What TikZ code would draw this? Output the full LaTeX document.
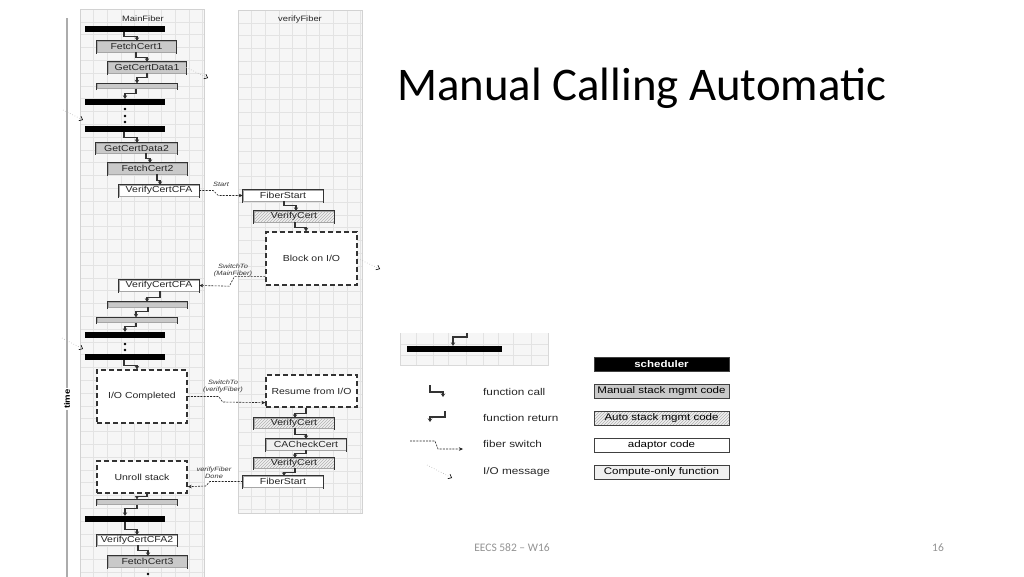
\documentclass[tikz,border=0pt]{standalone}
\usepackage{fontspec}
\setmainfont{Liberation Sans}
\newfontfamily\dgfont[FakeStretch=1.2]{Liberation Sans}
\newfontfamily\calfont{Carlito}
\usetikzlibrary{patterns,arrows.meta,calc}
\begin{document}
\begin{tikzpicture}[x=1pt,y=-1pt,
  wh/.style 2 args={minimum width=#1,minimum height=#2},
  cell/.style={inner sep=0pt,font=\dgfont\fontsize{8.75}{9}\selectfont,text=black!85},
  manual/.style={cell,fill=gray!42,draw=gray!70,line width=0.4pt},
  adapt/.style={cell,fill=white,draw=gray!70,line width=0.4pt},
  autos/.style={cell,preaction={fill=gray!12},pattern=north east lines,pattern color=gray!60,draw=gray!70,line width=0.4pt},
  compute/.style={cell,fill=gray!12,draw=gray!70,line width=0.4pt},
  dashbox/.style={cell,fill=white,draw=gray!40!black,dash pattern=on 5pt off 3pt,line width=1.3pt},
  schedbar/.style={inner sep=0pt,fill=black},
  brk/.style={line width=1.2pt,black!80},
  call/.style={line width=1.1pt,black!80,-{Stealth[length=3.5pt,width=4.5pt]}},
  switch/.style={line width=0.6pt,gray!30!black,dash pattern=on 2pt off 1.2pt,-{Stealth[length=4pt,width=3.5pt]}},
  iomsg/.style={line width=0.6pt,gray!60,dotted,-{Straight Barb[length=3pt,width=5pt,black]}},
  gridl/.style={gray!22,line width=0.4pt},
  lane/.style={font=\dgfont\fontsize{7.8}{9}\selectfont,text=black!85},
  swlbl/.style={font=\dgfont\itshape\fontsize{6.2}{7}\selectfont,text=gray!40!black,align=center,inner sep=0pt},
  leglbl/.style={anchor=west,inner sep=0pt,font=\dgfont\fontsize{9.8}{11}\selectfont,text=black!85},
  legbox/.style={inner sep=0pt,wh={135}{14},line width=1pt,draw=black!75,font=\dgfont\fontsize{9.6}{11}\selectfont}
]
\useasboundingbox (0,0) rectangle (1024,576);
\fill[white] (0,0) rectangle (1024,576);

% ---------- panels ----------
\fill[gray!7] (80,9) rectangle (204,580);
\foreach \x in {80,93.6,...,204} \draw[gridl] (\x,9) -- (\x,580);
\foreach \y in {9,21.8,...,580} \draw[gridl] (80,\y) -- (204,\y);
\draw[gray!35,line width=0.6pt] (80,9) rectangle (204,580);

\fill[gray!7] (238,10) rectangle (362,513);
\foreach \x in {238,251.6,...,362} \draw[gridl] (\x,10) -- (\x,513);
\foreach \y in {10,22.8,...,513} \draw[gridl] (238,\y) -- (362,\y);
\draw[gray!35,line width=0.6pt] (238,10) rectangle (362,513);

\node[lane] (lblMain) at (143,19) {MainFiber};
\node[lane] (lblVF) at (300,19) {verifyFiber};

% ---------- time axis ----------
\draw[gray!65,line width=2.5pt] (67,18) -- (67,578);
\node[fill=white,inner sep=1pt,rotate=90,font=\dgfont\bfseries\fontsize{8}{9}\selectfont] (timelbl) at (67,399) {time};

% ---------- MainFiber ----------
\node[schedbar,wh={80}{6}] (bar1) at (125,29) {};
\node[manual,wh={79}{11}] (fc1) at (136.5,46.5) {FetchCert1};
\node[manual,wh={78}{11}] (gcd1) at (147,67.5) {GetCertData1};
\node[manual,wh={80}{5}] (r1) at (137,86) {};
\node[schedbar,wh={80}{6}] (bar2) at (125,102) {};
\fill (125,109) circle (1.4) (125,116) circle (1.4) (125,122) circle (1.4);
\node[schedbar,wh={80}{6}] (bar3) at (125,129) {};
\node[manual,wh={81}{10}] (gcd2) at (136.5,148) {GetCertData2};
\node[manual,wh={79}{11}] (fc2) at (147.5,168.5) {FetchCert2};
\node[adapt,wh={80}{11}] (vcfa1) at (159,190.5) {VerifyCertCFA};
\node[adapt,wh={80}{11}] (vcfa2) at (159,285.5) {VerifyCertCFA};
\node[manual,wh={79}{5}] (r2) at (147.5,304.5) {};
\node[manual,wh={80}{5}] (r3) at (137,320) {};
\node[schedbar,wh={80}{6}] (bar4) at (125,335) {};
\fill (125,344) circle (1.4) (125,350) circle (1.4);
\node[schedbar,wh={80}{6}] (bar5) at (125,357) {};
\node[dashbox,wh={90}{53}] (ioc) at (142,396.5) {I/O Completed};
\node[dashbox,wh={90}{32}] (unroll) at (142,477) {Unroll stack};
\node[manual,wh={80}{5}] (r4) at (137,502) {};
\node[schedbar,wh={80}{6}] (bar6) at (125,519) {};
\node[adapt,wh={80}{10}] (vcfa3) at (137,540) {VerifyCertCFA2};
\node[manual,wh={79}{11}] (fc3) at (147.5,561.5) {FetchCert3};
\fill (148,574) circle (1.4);

% ---------- verifyFiber ----------
\node[adapt,wh={80}{11}] (fs1) at (283,195.5) {FiberStart};
\node[autos,wh={80}{11}] (vc1) at (294,216.5) {VerifyCert};
\node[dashbox,wh={91}{53}] (block) at (311.5,258.5) {Block on I/O};
\node[dashbox,wh={91}{32}] (resume) at (311.5,391) {Resume from I/O};
\node[autos,wh={80}{10}] (vc2) at (294,423) {VerifyCert};
\node[compute,wh={80}{11}] (cac) at (306,444.5) {CACheckCert};
\node[autos,wh={80}{10}] (vc3) at (294,463) {VerifyCert};
\node[adapt,wh={80}{11}] (fs2) at (283,481.5) {FiberStart};

% bracket outlines
\foreach \n in {fc1,gcd1,r1,gcd2,fc2,vcfa1,vcfa2,r2,r3,r4,vcfa3,fc3,fs1,vc1,vc2,cac,vc3,fs2}
  \draw[brk] ([yshift=-1.5pt]\n.south west) |- (\n.north east) -- ([yshift=-1.5pt]\n.south east);

% ---------- function calls / returns ----------
\newcommand\fcall[5]{\draw[call] ([xshift=#2pt]#1.south) -- ++(0,#5) -| ([xshift=#4pt]#3.north);}
\fcall{bar1}{-1}{fc1}{0.5}{4}
\fcall{fc1}{-0.5}{gcd1}{0}{5}
\fcall{gcd1}{0}{r1}{0}{4}
\fcall{r1}{-1}{bar2}{0}{5}
\fcall{bar3}{-1}{gcd2}{0.5}{5}
\fcall{gcd2}{9.5}{fc2}{2.5}{5}
\fcall{fc2}{9.5}{vcfa1}{1}{6}
\fcall{vcfa2}{1}{r2}{-0.5}{6}
\fcall{r2}{0.5}{r3}{-1}{4}
\fcall{r3}{-1}{bar4}{0}{4}
\fcall{bar5}{-1}{ioc}{-5}{5}
\fcall{unroll}{5}{r4}{0}{3}
\fcall{r4}{0}{bar6}{0}{4}
\fcall{bar6}{0}{vcfa3}{0}{7}
\fcall{vcfa3}{1}{fc3}{0.5}{5}
\fcall{fs1}{1}{vc1}{2}{4}
\fcall{vc1}{1}{block}{-5.5}{5}
\fcall{resume}{-5.5}{vc2}{1}{6}
\fcall{vc2}{1}{cac}{0}{6}
\fcall{cac}{0}{vc3}{1}{3}
\fcall{vc3}{1}{fs2}{1}{4}

% ---------- fiber switches ----------
\draw[switch] (vcfa1.east) -- ++(14,0) -- ++(5,5) -- (fs1.west);
\node[swlbl] (lblStart) at (221,184) {Start};
\draw[switch] ([yshift=9pt]block.south west) -- ++(-31,0) -- ++(-5,9.5) -- (vcfa2.east);
\node[swlbl] (lblSw1) at (233,270) {SwitchTo\\(MainFiber)};
\draw[switch] (ioc.east) -- ++(31,0) -- ++(4,5.5) -- ([yshift=5pt]resume.south west);
\node[swlbl] (lblSw2) at (223,386) {SwitchTo\\(verifyFiber)};
\draw[switch] (fs2.west) -- ++(-33,0) -- ++(-4,4.5) -- ([yshift=7pt]unroll.south east);
\node[swlbl] (lblDone) at (214,473) {verifyFiber\\Done};

% ---------- I/O messages ----------
\coordinate (io1e) at (208,78);
\draw[iomsg] (gcd1.east) -- (io1e);
\coordinate (io2s) at (63,110); \coordinate (io2e) at (83,120);
\draw[iomsg] (io2s) -- (io2e);
\coordinate (io3s) at (62,338); \coordinate (io3e) at (83,349);
\draw[iomsg] (io3s) -- (io3e);
\coordinate (io4e) at (380,269);
\draw[iomsg] (block.east) -- (io4e);

% ---------- title and footer ----------
\node[anchor=base west,inner sep=0pt,font=\calfont\fontsize{46.8}{50}\selectfont] (title) at (397,100) {Manual Calling Automatic};
\node[font=\calfont\fontsize{11.5}{13}\selectfont,text=gray!85] (foot) at (512,548) {EECS 582 – W16};
\node[font=\calfont\fontsize{11.5}{13}\selectfont,text=gray!85] (pnum) at (938,548) {16};

% ---------- legend ----------
\fill[gray!7] (400,333) rectangle (548,365);
\foreach \x in {416.5,433,448,466,483,498,513,531} \draw[gridl] (\x,333) -- (\x,365);
\foreach \y in {344,355} \draw[gridl] (400,\y) -- (548,\y);
\draw[gray!30,line width=0.6pt] (400,333) -- (400,365) -- (548,365) -- (548,333);
\node[schedbar,wh={95}{6}] (lbar) at (454.5,349) {};
\coordinate (lret) at (467,333);
\draw[call] (lret) -- ++(0,4) -| ([xshift=-1.5pt]lbar.north);

\coordinate (lc1) at (430,385); \coordinate (lc2) at (443,397);
\draw[call] (lc1) -- ++(0,7) -| (lc2);
\coordinate (lr1) at (445,411); \coordinate (lr2) at (430,422);
\draw[call] (lr1) -- ++(0,6) -| (lr2);
\coordinate (ls1) at (410,441); \coordinate (ls2) at (463,449);
\draw[switch] (ls1) -- ++(25,0) -- ++(3,8) -- (ls2);
\coordinate (lio1) at (427,465); \coordinate (lio2) at (452,478);
\draw[iomsg] (lio1) -- (lio2);

\node[leglbl] (tcall) at (483,392) {function call};
\node[leglbl] (tret) at (483,418) {function return};
\node[leglbl] (tsw) at (483,444) {fiber switch};
\node[leglbl] (tio) at (483,472) {I/O message};

\node[legbox,fill=black,text=white,font=\dgfont\bfseries\fontsize{9.6}{11}\selectfont] (lsched) at (661.5,364) {scheduler};
\node[legbox,fill=gray!42] (lman) at (661.5,391) {Manual stack mgmt code};
\node[legbox,preaction={fill=gray!12},pattern=north east lines,pattern color=gray!60] (lauto) at (661.5,418) {Auto stack mgmt code};
\node[legbox,fill=white] (ladapt) at (661.5,445) {adaptor code};
\node[legbox,fill=gray!12] (lcomp) at (661.5,472.5) {Compute-only function};
\end{tikzpicture}
\end{document}
